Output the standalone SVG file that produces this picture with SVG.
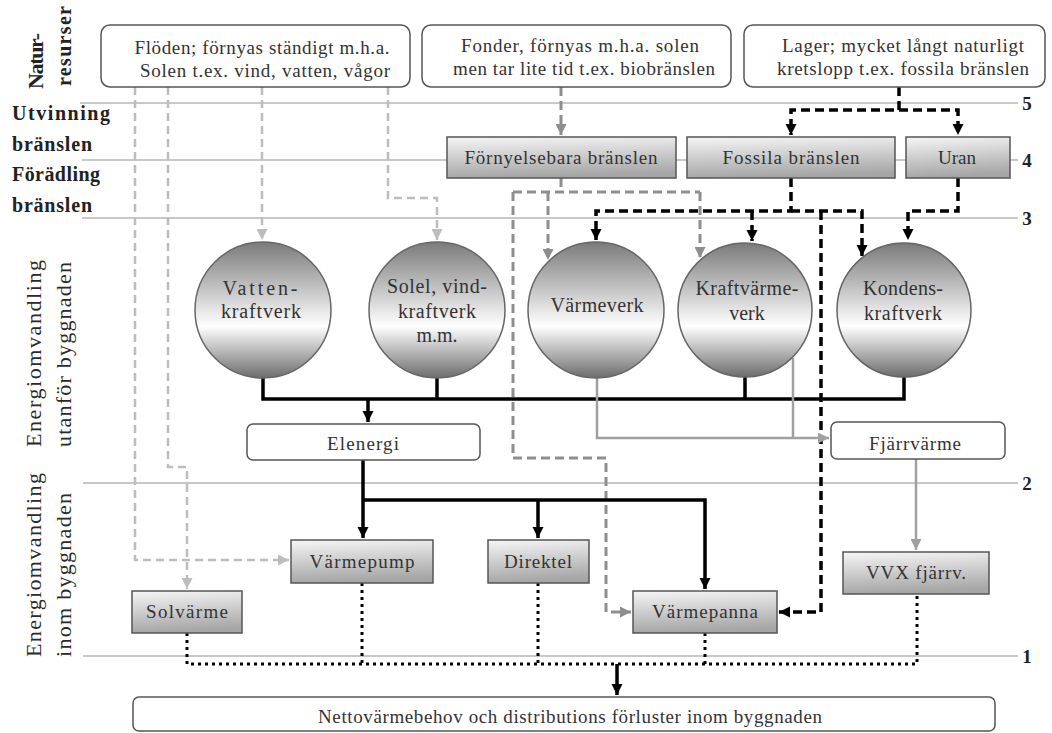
<svg xmlns="http://www.w3.org/2000/svg" width="1052" height="733" viewBox="0 0 1052 733">
<style>
text{font-family:"Liberation Serif","Times New Roman",serif;fill:#333;}
.t{font-size:19px;text-anchor:middle;}
.c{font-size:20px;text-anchor:middle;}
.lbl{font-size:20px;font-weight:bold;fill:#222;}
.side{font-size:22px;fill:#2a2a2a;}
.num{font-size:19px;font-weight:bold;fill:#222;text-anchor:middle;}
.lvl{stroke:#c8c8c8;stroke-width:2;fill:none;}
.rb{fill:#fff;stroke:#555;stroke-width:1.5;}
.gb{fill:url(#gBox);stroke:#555;stroke-width:1.5;}
.ci{fill:url(#gCirc);stroke:#666;stroke-width:1.5;}
.lg{stroke:#bdbdbd;stroke-width:2.5;stroke-dasharray:8 5;fill:none;}
.mg{stroke:#8e8e8e;stroke-width:3;stroke-dasharray:9 5;fill:none;}
.bd{stroke:#000;stroke-width:3.5;stroke-dasharray:9 5;fill:none;}
.bs{stroke:#000;stroke-width:3.5;fill:none;}
.gs{stroke:#a0a0a0;stroke-width:2.5;fill:none;}
.dt{stroke:#000;stroke-width:3;stroke-dasharray:3 4;fill:none;}
</style>
<defs>
<linearGradient id="gBox" x1="0" y1="0" x2="0.15" y2="1"><stop offset="0" stop-color="#f6f6f6"/><stop offset="1" stop-color="#a6a6a6"/></linearGradient>
<linearGradient id="gCirc" x1="0" y1="0" x2="0" y2="1"><stop offset="0" stop-color="#7a7a7a"/><stop offset="0.62" stop-color="#ffffff"/><stop offset="1" stop-color="#6c6c6c"/></linearGradient>
<marker id="ab" viewBox="0 0 10 10" refX="10" refY="5" markerWidth="11" markerHeight="12" markerUnits="userSpaceOnUse" orient="auto"><path d="M0,0 L10,5 L0,10 z" fill="#000"/></marker>
<marker id="ag" viewBox="0 0 10 10" refX="10" refY="5" markerWidth="11" markerHeight="11" markerUnits="userSpaceOnUse" orient="auto"><path d="M0,0 L10,5 L0,10 z" fill="#8e8e8e"/></marker>
<marker id="as" viewBox="0 0 10 10" refX="10" refY="5" markerWidth="11" markerHeight="11" markerUnits="userSpaceOnUse" orient="auto"><path d="M0,0 L10,5 L0,10 z" fill="#a0a0a0"/></marker>
<marker id="al" viewBox="0 0 10 10" refX="10" refY="5" markerWidth="11" markerHeight="11" markerUnits="userSpaceOnUse" orient="auto"><path d="M0,0 L10,5 L0,10 z" fill="#bdbdbd"/></marker>
</defs>
<rect width="1052" height="733" fill="#fff"/>

<g id="levels">
<path class="lvl" d="M80,103 H1018 M82,160 H1018 M82,218 H1018 M83,483 H1018 M83,656 H1018"/>
<text class="num" x="1027" y="110">5</text>
<text class="num" x="1027" y="167">4</text>
<text class="num" x="1027" y="225">3</text>
<text class="num" x="1027" y="490">2</text>
<text class="num" x="1027" y="663">1</text>
</g>

<g id="side-labels">
<text class="lbl" style="font-size:22px" transform="translate(43,61) rotate(-90)" text-anchor="middle" textLength="56">Natur-</text>
<text class="lbl" transform="translate(71,46) rotate(-90)" text-anchor="middle" textLength="80">resurser</text>
<text class="lbl" x="12" y="120" textLength="98">Utvinning</text>
<text class="lbl" x="12" y="151" textLength="80">bränslen</text>
<text class="lbl" x="12" y="181" textLength="88">Förädling</text>
<text class="lbl" x="12" y="212" textLength="80">bränslen</text>
<text class="side" transform="translate(41,447) rotate(-90)" textLength="187">Energiomvandling</text>
<text class="side" transform="translate(71,447) rotate(-90)" textLength="185">utanför byggnaden</text>
<text class="side" transform="translate(41,657) rotate(-90)" textLength="184">Energiomvandling</text>
<text class="side" transform="translate(71,657) rotate(-90)" textLength="164">inom byggnaden</text>
</g>

<g id="connectors">
<path class="lg" d="M135,87 V560 H289" marker-end="url(#al)"/>
<path class="lg" d="M168,87 V467 H187 V589" marker-end="url(#al)"/>
<path class="lg" d="M262,87 V240" marker-end="url(#al)"/>
<path class="lg" d="M388,87 V198 H437 V240" marker-end="url(#al)"/>

<path class="mg" d="M561,87 V135" marker-end="url(#ag)"/>
<path class="mg" d="M561,178 V192 M513,192 H700"/>
<path class="mg" d="M700,192 V258" marker-end="url(#ag)"/>
<path class="mg" d="M548,192 V260" marker-end="url(#ag)"/>
<path class="mg" d="M513,192 V458 H606 V612 H631" marker-end="url(#ag)"/>

<path class="bd" d="M899,87 V110 H791 V135" marker-end="url(#ab)"/>
<path class="bd" d="M899,110 H958 V135" marker-end="url(#ab)"/>
<path class="bd" d="M791,178 V211 H596 V240" marker-end="url(#ab)"/>
<path class="bd" d="M791,211 H862 V256" marker-end="url(#ab)"/>
<path class="bd" d="M752,211 V241" marker-end="url(#ab)"/>
<path class="bd" d="M821,211 V612 H779" marker-end="url(#ab)"/>
<path class="bd" d="M958,178 V211 H908 V240" marker-end="url(#ab)"/>

<path class="bs" d="M263,377 V399 H904 V377 M437,377 V399 M745,377 V399"/>
<path class="bs" d="M368,399 V422" marker-end="url(#ab)"/>
<path class="bs" d="M363,460 V538" marker-end="url(#ab)"/>
<path class="bs" d="M363,500 H705 V589" marker-end="url(#ab)"/>
<path class="bs" d="M538,500 V538" marker-end="url(#ab)"/>

<path class="gs" d="M597,377 V438 H829" marker-end="url(#as)"/>
<path class="gs" d="M793,358 V438"/>
<path class="gs" d="M916,459 V550" marker-end="url(#as)"/>

<path class="dt" d="M187,633 V664 H917 V594 M362,583 V664 M538,583 V664 M705,633 V664"/>
<path class="bs" d="M617,664 V695" marker-end="url(#ab)"/>
</g>

<g id="n-floden"><rect class="rb" x="101" y="25" width="309" height="62" rx="9"/>
<text class="t" x="262" y="54" textLength="255">Flöden; förnyas ständigt m.h.a.</text>
<text class="t" x="265" y="77" textLength="250">Solen t.ex. vind, vatten, vågor</text></g>
<g id="n-fonder"><rect class="rb" x="422" y="25" width="309" height="62" rx="9"/>
<text class="t" x="580" y="52" textLength="238">Fonder, förnyas m.h.a. solen</text>
<text class="t" x="584" y="75" textLength="262">men tar lite tid t.ex. biobränslen</text></g>
<g id="n-lager"><rect class="rb" x="744" y="25" width="301" height="62" rx="9"/>
<text class="t" x="903" y="52" textLength="242">Lager; mycket långt naturligt</text>
<text class="t" x="903" y="75" textLength="252">kretslopp t.ex. fossila bränslen</text></g>

<g id="n-fornyelsebara"><rect class="gb" x="447" y="137" width="229" height="41"/>
<text class="t" x="561" y="164" textLength="193">Förnyelsebara bränslen</text></g>
<g id="n-fossila"><rect class="gb" x="687" y="137" width="208" height="41"/>
<text class="t" x="791" y="164" textLength="137">Fossila bränslen</text></g>
<g id="n-uran"><rect class="gb" x="906" y="137" width="104" height="41"/>
<text class="t" x="957" y="164">Uran</text></g>

<g id="n-vatten"><circle class="ci" cx="263" cy="310" r="68"/>
<text class="c" x="260" y="295" textLength="75">Vatten-</text>
<text class="c" x="261" y="318" textLength="80">kraftverk</text></g>
<g id="n-solel"><circle class="ci" cx="437" cy="310" r="68"/>
<text class="c" x="437" y="293" textLength="100">Solel, vind-</text>
<text class="c" x="437" y="318" textLength="78">kraftverk</text>
<text class="c" x="437" y="342">m.m.</text></g>
<g id="n-varmeverk"><circle class="ci" cx="596" cy="310" r="68"/>
<text class="c" x="597" y="312" textLength="93">Värmeverk</text></g>
<g id="n-kraftvarme"><circle class="ci" cx="745" cy="310" r="67"/>
<text class="c" x="747" y="295" textLength="103">Kraftvärme-</text>
<text class="c" x="747" y="320">verk</text></g>
<g id="n-kondens"><circle class="ci" cx="904" cy="310" r="67"/>
<text class="c" x="903" y="295" textLength="80">Kondens-</text>
<text class="c" x="903" y="320" textLength="78">kraftverk</text></g>

<g id="n-elenergi"><rect class="rb" x="247" y="424" width="233" height="36" rx="6"/>
<text class="t" x="363" y="450" textLength="72">Elenergi</text></g>
<g id="n-fjarrvarme"><rect class="rb" x="831" y="422" width="174" height="37" rx="6"/>
<text class="t" x="915" y="450" textLength="92">Fjärrvärme</text></g>

<g id="n-varmepump"><rect class="gb" x="291" y="540" width="142" height="43"/>
<text class="t" x="362" y="568" textLength="105">Värmepump</text></g>
<g id="n-direktel"><rect class="gb" x="488" y="540" width="101" height="43"/>
<text class="t" x="538" y="568" textLength="68">Direktel</text></g>
<g id="n-solvarme"><rect class="gb" x="132" y="591" width="110" height="42"/>
<text class="t" x="187" y="618" textLength="82">Solvärme</text></g>
<g id="n-varmepanna"><rect class="gb" x="633" y="591" width="144" height="42"/>
<text class="t" x="705" y="618" textLength="106">Värmepanna</text></g>
<g id="n-vvx"><rect class="gb" x="843" y="552" width="146" height="42"/>
<text class="t" x="916" y="579" textLength="100">VVX fjärrv.</text></g>

<g id="n-netto"><rect class="rb" x="133" y="697" width="862" height="34" rx="6"/>
<text class="t" x="570" y="723" textLength="504">Nettovärmebehov och distributions förluster inom byggnaden</text></g>
</svg>
